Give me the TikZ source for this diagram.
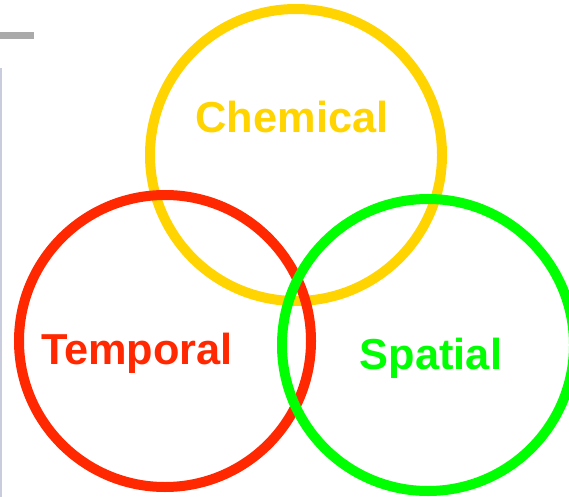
\documentclass[tikz,border=0pt]{standalone}
\usepackage{fontspec}
\setmainfont{Liberation Sans}
\definecolor{cyellow}{RGB}{255,212,0}
\definecolor{cred}{RGB}{255,40,0}
\definecolor{cgreen}{RGB}{0,255,0}
\definecolor{cbar}{RGB}{170,170,170}
\definecolor{cedge}{RGB}{200,204,220}
\tikzset{venn/.style={x=1bp,y=-1bp,line width=10bp},
  ring/.style={line width=10bp},
  lbl/.style={anchor=base,font=\fontsize{43.5}{44}\selectfont\bfseries,inner sep=0pt}}

\begin{document}
\begin{tikzpicture}[venn]
    \useasboundingbox (0,0) rectangle (569,497);
    \fill[cbar]  (0,32) rectangle (34,39);
    \fill[cedge] (0,68) rectangle (2,497);
    \draw[ring,cyellow] (296,155) circle (146);
    \draw[ring,cred]    (165,341) circle (146);
    \draw[ring,cgreen]  (428,345) circle (146);
    \node[lbl,cyellow] (chem) at (292,133) {Chemical};
    \node[lbl,cred]    (temp) at (137,364) {Temporal};
    \node[lbl,cgreen]  (spat) at (431,369) {Spatial};
\end{tikzpicture}
\end{document}
